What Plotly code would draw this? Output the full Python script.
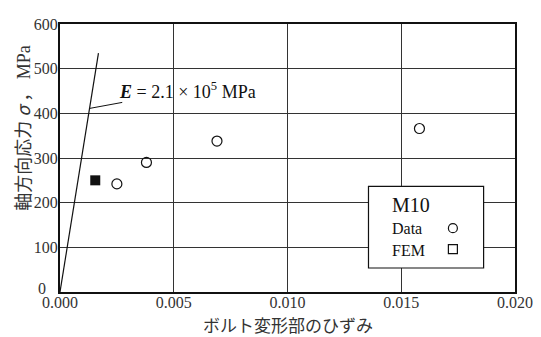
import plotly.graph_objects as go

# ---- data ----
data_strain = [0.0025, 0.0038, 0.0069, 0.0158]
data_stress = [242, 290, 338, 366]
fem_strain = [0.00155]
fem_stress = [250]
modulus_strain = [0.0, 0.00169]
modulus_stress = [0, 535]
x_ticks = [0.000, 0.005, 0.010, 0.015, 0.020]
x_tick_labels = ["0.000", "0.005", "0.010", "0.015", "0.020"]
y_ticks = [100, 200, 300, 400, 500, 600]   # the "0" label is drawn separately (offset in original)
y_zero_label = "0"
legend_title = "M10"
legend_names = ["Data", "FEM"]

SERIF = "Liberation Serif, Times New Roman, serif"
CJK = "Noto Sans CJK JP, sans-serif"

fig = go.Figure()

fig.add_trace(go.Scatter(x=modulus_strain, y=modulus_stress, mode="lines",
                         line=dict(color="#111", width=1.2), showlegend=False,
                         hoverinfo="skip"))
fig.add_trace(go.Scatter(x=data_strain, y=data_stress, mode="markers", name="Data",
                         marker=dict(symbol="circle-open", size=10,
                                     line=dict(color="#111", width=1.2), color="#111"),
                         showlegend=False))
fig.add_trace(go.Scatter(x=fem_strain, y=fem_stress, mode="markers", name="FEM",
                         marker=dict(symbol="square", size=10, color="#111"),
                         showlegend=False))

# legend box (drawn in data space, between grid and traces)
lx0, lx1 = 0.01356, 0.01862
ly0, ly1 = 53.7, 236.6
fig.add_shape(type="rect", xref="x", yref="y", x0=lx0, x1=lx1, y0=ly0, y1=ly1,
              line=dict(color="#111", width=1.2), fillcolor="white", layer="between")
fig.add_trace(go.Scatter(x=[0.01727], y=[143], mode="markers", showlegend=False,
                         marker=dict(symbol="circle-open", size=9,
                                     line=dict(color="#111", width=1.2), color="#111"),
                         hoverinfo="skip"))
fig.add_trace(go.Scatter(x=[0.01727], y=[96], mode="markers", showlegend=False,
                         marker=dict(symbol="square-open", size=9,
                                     line=dict(color="#111", width=1.2), color="#111"),
                         hoverinfo="skip"))

fig.add_annotation(x=0.01544, y=194, xref="x", yref="y", text=legend_title,
                   showarrow=False, xanchor="center", yanchor="middle",
                   font=dict(family=SERIF, size=20, color="#111"))
fig.add_annotation(x=0.01451, y=143, xref="x", yref="y", text=legend_names[0],
                   showarrow=False, xanchor="left", yanchor="middle",
                   font=dict(family=SERIF, size=16, color="#111"))
fig.add_annotation(x=0.01451, y=93, xref="x", yref="y", text=legend_names[1],
                   showarrow=False, xanchor="left", yanchor="middle",
                   font=dict(family=SERIF, size=16, color="#111"))

# modulus annotation
fig.add_annotation(x=0.0013, y=411, xref="x", yref="y",
                   text="<b><i>E</i></b> = 2.1 × 10<sup>5</sup> MPa",
                   showarrow=True, arrowhead=0, arrowwidth=1, arrowcolor="#111",
                   ax=98, ay=-18, standoff=0, borderpad=0,
                   font=dict(family=SERIF, size=18, color="#111"))

# origin "0" label of the y axis (sits left and slightly above in the original)
fig.add_annotation(x=-0.0404, y=0.0134, xref="paper", yref="paper", text=y_zero_label,
                   showarrow=False, xanchor="center", yanchor="middle",
                   font=dict(family=SERIF, size=16, color="#333"))

# axis titles
fig.add_annotation(x=-0.084, y=0.612, xref="paper", yref="paper",
                   text="軸方向応力 <i>σ</i> ，<span style='font-family:Liberation Serif'> MPa</span>",
                   textangle=-90, showarrow=False, xanchor="center", yanchor="middle",
                   font=dict(family=CJK, size=18, color="#333"))
fig.add_annotation(x=0.501, y=-0.123, xref="paper", yref="paper",
                   text="ボルト変形部のひずみ", showarrow=False,
                   xanchor="center", yanchor="middle",
                   font=dict(family=CJK, size=17, color="#333"))

fig.update_xaxes(range=[0, 0.020], tickvals=x_ticks, ticktext=x_tick_labels,
                 showgrid=True, gridcolor="#333", gridwidth=1,
                 showline=True, linecolor="#111", linewidth=2, mirror=True,
                 zeroline=False, ticks="", ticklabelstandoff=-5,
                 tickfont=dict(family=SERIF, size=16, color="#333"))
fig.update_yaxes(range=[0, 600], tickvals=y_ticks,
                 showgrid=True, gridcolor="#333", gridwidth=1,
                 showline=True, linecolor="#111", linewidth=2, mirror=True,
                 zeroline=False, ticks="", ticklabelstandoff=-3,
                 tickfont=dict(family=SERIF, size=16, color="#333"))

# page body has an 8px default margin; compensate so the chart sits where the reference does
fig.update_layout(width=533, height=329,
                  margin=dict(l=51.5, r=23.5, t=8, b=45.3),
                  plot_bgcolor="white", paper_bgcolor="white",
                  showlegend=False)

fig.write_html("out.html")
